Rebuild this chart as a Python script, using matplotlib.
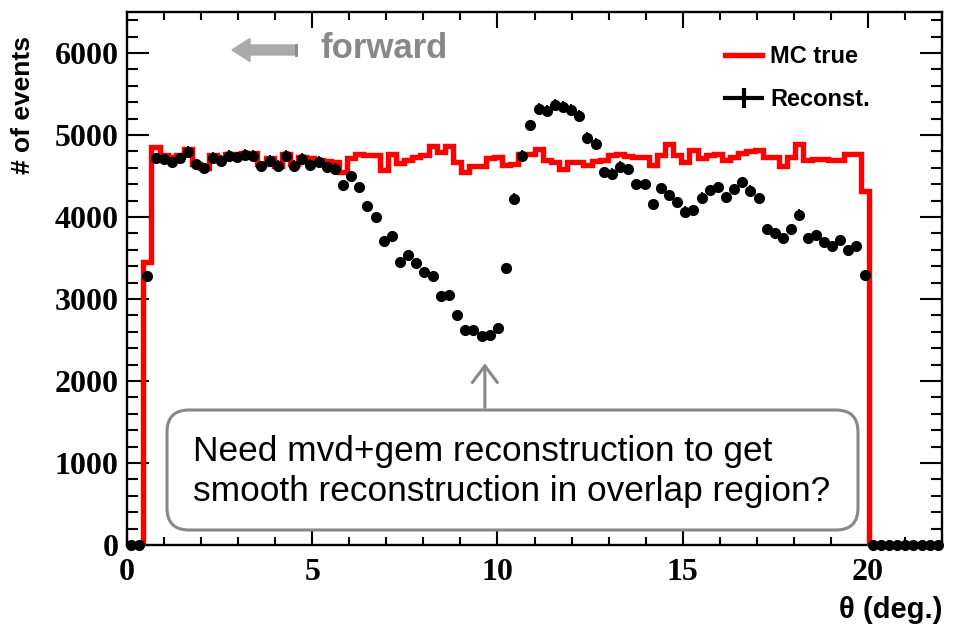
import numpy as np
import matplotlib
matplotlib.use("Agg")
import matplotlib.pyplot as plt
from matplotlib.patches import FancyBboxPatch, FancyArrow
from matplotlib.lines import Line2D

# ---- data: 100 bins over theta 0..22 deg ----
theta_min, theta_max, n_bins = 0.0, 22.0, 100

mc_true = [0, 0, 3450, 4855, 4758, 4730, 4758, 4830, 4650, 4596,
           4758, 4717, 4765, 4773, 4785, 4785, 4644, 4725, 4624, 4773,
           4644, 4733, 4725, 4697, 4685, 4675, 4550, 4717, 4768, 4752,
           4755, 4576, 4765, 4656, 4697, 4737, 4760, 4862, 4798, 4862,
           4676, 4545, 4616, 4616, 4720, 4737, 4640, 4650, 4765, 4765,
           4828, 4700, 4676, 4586, 4666, 4666, 4632, 4680, 4700, 4755,
           4773, 4747, 4729, 4729, 4636, 4758, 4886, 4758, 4676, 4818,
           4717, 4758, 4770, 4697, 4733, 4775, 4805, 4818, 4737, 4737,
           4620, 4733, 4886, 4700, 4712, 4705, 4690, 4700, 4765, 4772,
           4313, 0, 0, 0, 0, 0, 0, 0, 0, 0]

reconst = [0, 0, 3282, 4717, 4705, 4668, 4717, 4798, 4644, 4595,
           4725, 4685, 4745, 4729, 4758, 4749, 4620, 4685, 4628, 4745,
           4628, 4709, 4636, 4676, 4604, 4585, 4385, 4495, 4361, 4135,
           3995, 3707, 3764, 3452, 3537, 3436, 3335, 3279, 3036, 3048,
           2810, 2624, 2624, 2547, 2567, 2648, 3376, 4224, 4745, 5116,
           5322, 5298, 5371, 5339, 5303, 5230, 4969, 4896, 4547, 4525,
           4615, 4582, 4398, 4401, 4155, 4353, 4264, 4179, 4067, 4086,
           4236, 4328, 4361, 4240, 4337, 4425, 4321, 4228, 3848, 3804,
           3739, 3848, 4030, 3739, 3776, 3691, 3650, 3719, 3598, 3650,
           3291, 0, 0, 0, 0, 0, 0, 0, 0, 0]

x_ticks = [0, 5, 10, 15, 20]
y_ticks = [0, 1000, 2000, 3000, 4000, 5000, 6000]

edges = np.linspace(theta_min, theta_max, n_bins + 1)
centers = 0.5 * (edges[:-1] + edges[1:])
mc = np.array(mc_true, dtype=float)
rc = np.array(reconst, dtype=float)

fig = plt.figure(figsize=(9.6, 6.27), dpi=100)
ax = fig.add_axes([127/960, 1-545/627, 815/960, 533/627])

serif_bold = dict(family="Liberation Serif", weight="bold")
sans_bold = dict(family="Liberation Sans", weight="bold")

ax.stairs(mc, edges, color="#ff0000", lw=3.9, zorder=3, baseline=0)
ax.errorbar(centers, rc, yerr=np.sqrt(rc), fmt="o", color="black", ms=7.0,
            elinewidth=1.3, capsize=0, zorder=4, clip_on=False)

ax.set_xlim(theta_min, theta_max)
ax.set_ylim(0, 6500)
ax.set_xticks(x_ticks)
ax.set_xticks(np.arange(0, 22.01, 1), minor=True)
ax.set_yticks(y_ticks)
ax.set_yticks(np.arange(0, 6501, 200), minor=True)
ax.set_xticklabels([str(v) for v in x_ticks], fontdict=serif_bold, fontsize=23)
ax.set_yticklabels([str(v) for v in y_ticks], fontdict=serif_bold, fontsize=23)

for s in ax.spines.values():
    s.set_linewidth(1.7)
ax.tick_params(which="both", direction="in", top=True, right=True, width=1.5)
ax.tick_params(axis="y", which="major", length=16, pad=6)
ax.tick_params(axis="y", which="minor", length=8)
ax.tick_params(axis="x", which="major", length=11.5, pad=9)
ax.tick_params(axis="x", which="minor", length=5.8)

ax.set_ylabel("# of events", fontdict=sans_bold, fontsize=19)
ax.yaxis.set_label_coords(-0.113, 0.825)
ax.set_xlabel("\u03b8 (deg.)", fontdict=sans_bold, fontsize=21)
ax.xaxis.set_label_coords(1.0, -0.095)
ax.xaxis.label.set_ha("right")

handles = [Line2D([], [], color="#ff0000", lw=3.9),
           Line2D([], [], color="black", lw=3, marker="|", ms=15, mew=3)]
leg = ax.legend(handles, ["MC true", "Reconst."], loc="upper left",
                bbox_to_anchor=(0.708, 0.978), frameon=False,
                prop=dict(family="Liberation Sans", weight="bold", size=17),
                handlelength=1.55, handletextpad=0.35, labelspacing=0.85)

# forward arrow and label
tr = fig.dpi_scale_trans
fig.add_artist(FancyArrow(2.97, 5.77, -0.65, 0, width=0.10, head_width=0.23,
                          head_length=0.18, length_includes_head=True,
                          color="#aaaaaa", transform=tr))
fig.add_artist(Line2D([2.955, 2.955], [5.72, 5.82], color="#888888", lw=2, transform=tr))
fig.text(3.20, 5.78, "forward", transform=tr, color="#888888", ha="left",
         va="center", family="Liberation Sans", weight="bold", size=25)

# annotation box
fig.add_artist(FancyBboxPatch((1.67, 0.97), 6.91, 1.20,
                              boxstyle="round,pad=0,rounding_size=0.22",
                              transform=tr, facecolor="white",
                              edgecolor="#888888", lw=2.2, zorder=5))
fig.text(1.93, 1.555, "Need mvd+gem reconstruction to get\nsmooth reconstruction in overlap region?",
         transform=tr, ha="left", va="center", family="Liberation Sans",
         size=25.4, linespacing=1.25, zorder=6)
ax.annotate("", xy=(9.66, 2250), xytext=(9.66, 1646),
            arrowprops=dict(arrowstyle="->,head_length=0.6,head_width=0.45",
                            color="#888888", lw=2.2, mutation_scale=20))

fig.savefig("out.png", dpi=100)
